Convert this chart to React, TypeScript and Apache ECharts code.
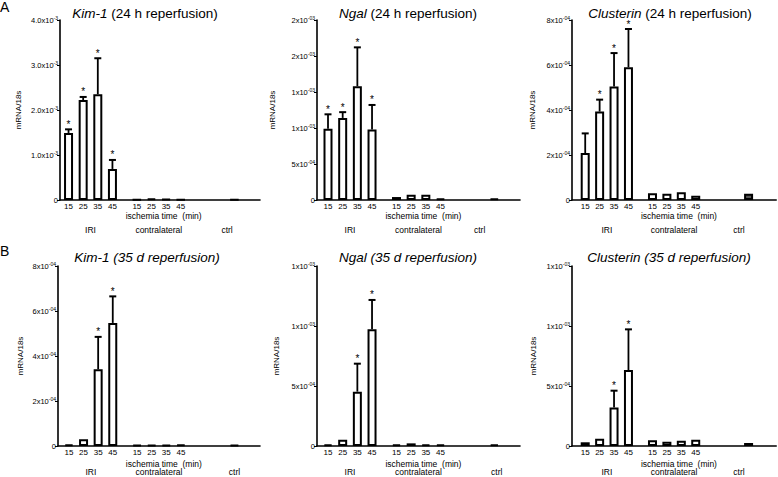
import React, { useEffect, useRef } from "react";
import * as echarts from "echarts";

const FONT = '"Liberation Sans", Arial, Helvetica, sans-serif';

// ---------- shared text ----------
const iriTimes = ["15", "25", "35", "45"];
const groupNames = ["IRI", "contralateral", "ctrl"];
const xAxisTitle = "ischemia time  (min)";
const yAxisTitle = "mRNA/18s";
const panelLetters = ["A", "B"];

// ---------- A: Kim-1 (24 h) ----------
const kim1_24h_iri = [1.49e-3, 2.22e-3, 2.35e-3, 0.69e-3];
const kim1_24h_iriSem = [0.08e-3, 0.07e-3, 0.8e-3, 0.2e-3];
const kim1_24h_contra = [0.01e-3, 0.03e-3, 0.02e-3, 0.01e-3];
const kim1_24h_ctrl = 0.01e-3;
const kim1_24h_sig = [1, 1, 1, 1];
const kim1_24h_ticks = ["0", "1.0x10^-3", "2.0x10^-3", "3.0x10^-3", "4.0x10^-3"];

// ---------- A: Ngal (24 h) ----------
const ngal_24h_iri = [0.99e-3, 1.14e-3, 1.58e-3, 0.98e-3];
const ngal_24h_iriSem = [0.2e-3, 0.08e-3, 0.54e-3, 0.34e-3];
const ngal_24h_contra = [0.041e-3, 0.074e-3, 0.074e-3, 0.018e-3];
const ngal_24h_ctrl = 0.018e-3;
const ngal_24h_sig = [1, 1, 1, 1];
const ngal_24h_ticks = ["0", "5x10^-04", "1x10^-03", "1x10^-03", "2x10^-03", "2x10^-03"];

// ---------- A: Clusterin (24 h) ----------
const clu_24h_iri = [2.09e-4, 3.93e-4, 5.04e-4, 5.9e-4];
const clu_24h_iriSem = [0.87e-4, 0.53e-4, 1.49e-4, 1.7e-4];
const clu_24h_contra = [0.3e-4, 0.28e-4, 0.34e-4, 0.19e-4];
const clu_24h_ctrl = 0.28e-4;
const clu_24h_sig = [0, 1, 1, 1];
const clu_24h_ticks = ["0", "2x10^-04", "4x10^-04", "6x10^-04", "8x10^-04"];

// ---------- B: Kim-1 (35 d) ----------
const kim1_35d_iri = [0.07e-4, 0.3e-4, 3.41e-4, 5.47e-4];
const kim1_35d_iriSem = [0, 0, 1.44e-4, 1.18e-4];
const kim1_35d_contra = [0.05e-4, 0.05e-4, 0.05e-4, 0.06e-4];
const kim1_35d_ctrl = 0.05e-4;
const kim1_35d_sig = [0, 0, 1, 1];
const kim1_35d_ticks = ["0", "2x10^-04", "4x10^-04", "6x10^-04", "8x10^-04"];

// ---------- B: Ngal (35 d) ----------
const ngal_35d_iri = [0.014e-3, 0.053e-3, 0.453e-3, 0.972e-3];
const ngal_35d_iriSem = [0, 0, 0.233e-3, 0.245e-3];
const ngal_35d_contra = [0.014e-3, 0.022e-3, 0.014e-3, 0.014e-3];
const ngal_35d_ctrl = 0.014e-3;
const ngal_35d_sig = [0, 0, 1, 1];
const ngal_35d_ticks = ["0", "5x10^-04", "1x10^-03", "1x10^-03"];

// ---------- B: Clusterin (35 d) ----------
const clu_35d_iri = [0.031e-3, 0.061e-3, 0.32e-3, 0.633e-3];
const clu_35d_iriSem = [0, 0, 0.141e-3, 0.339e-3];
const clu_35d_contra = [0.047e-3, 0.036e-3, 0.044e-3, 0.053e-3];
const clu_35d_ctrl = 0.025e-3;
const clu_35d_sig = [0, 0, 1, 1];
const clu_35d_ticks = ["0", "5x10^-04", "1x10^-03", "1x10^-03"];

type Panel = {
  gene: string;
  rest: string;
  allItalic: boolean;
  iri: number[];
  sem: number[];
  contra: number[];
  ctrl: number;
  sig: number[];
  ticks: string[];
  interval: number;
};

const panels: Panel[] = [
  { gene: "Kim-1", rest: " (24 h reperfusion)", allItalic: false, iri: kim1_24h_iri, sem: kim1_24h_iriSem, contra: kim1_24h_contra, ctrl: kim1_24h_ctrl, sig: kim1_24h_sig, ticks: kim1_24h_ticks, interval: 1e-3 },
  { gene: "Ngal", rest: " (24 h reperfusion)", allItalic: false, iri: ngal_24h_iri, sem: ngal_24h_iriSem, contra: ngal_24h_contra, ctrl: ngal_24h_ctrl, sig: ngal_24h_sig, ticks: ngal_24h_ticks, interval: 5e-4 },
  { gene: "Clusterin", rest: " (24 h reperfusion)", allItalic: false, iri: clu_24h_iri, sem: clu_24h_iriSem, contra: clu_24h_contra, ctrl: clu_24h_ctrl, sig: clu_24h_sig, ticks: clu_24h_ticks, interval: 2e-4 },
  { gene: "Kim-1", rest: " (35 d reperfusion)", allItalic: true, iri: kim1_35d_iri, sem: kim1_35d_iriSem, contra: kim1_35d_contra, ctrl: kim1_35d_ctrl, sig: kim1_35d_sig, ticks: kim1_35d_ticks, interval: 2e-4 },
  { gene: "Ngal", rest: " (35 d reperfusion)", allItalic: true, iri: ngal_35d_iri, sem: ngal_35d_iriSem, contra: ngal_35d_contra, ctrl: ngal_35d_ctrl, sig: ngal_35d_sig, ticks: ngal_35d_ticks, interval: 5e-4 },
  { gene: "Clusterin", rest: " (35 d reperfusion)", allItalic: true, iri: clu_35d_iri, sem: clu_35d_iriSem, contra: clu_35d_contra, ctrl: clu_35d_ctrl, sig: clu_35d_sig, ticks: clu_35d_ticks, interval: 5e-4 },
];

// ---------- layout ----------
const gridBoxes = [
  { left: 60, top: 20, width: 200, height: 180 },
  { left: 317, top: 20, width: 203, height: 180 },
  { left: 572, top: 20, width: 206, height: 180 },
  { left: 58, top: 266, width: 202, height: 180 },
  { left: 317, top: 266, width: 203, height: 180 },
  { left: 572, top: 266, width: 206, height: 180 },
];
const leads = [3, 4, 5, 4, 4, 5];
const catCounts = [82, 83, 85, 83, 83, 85];
const nameGaps = [38, 41, 36, 34, 37, 35];
const ctrlLabelOffsets = [65, 62, 64, 68, 69, 64];
const titleCenters = [
  [145, 13],
  [408, 13],
  [670, 13],
  [147, 257],
  [408, 257],
  [669, 257],
];
const rowLabelY = [
  { isch: 216, group: 229.5 },
  { isch: 463.5, group: 472 },
];
const POS_IRI = [0, 6, 12, 18];
const POS_CONTRA = [28, 34, 40, 46];
const POS_CTRL = 68;

function buildOption() {
  const grid: any[] = [];
  const xAxis: any[] = [];
  const yAxis: any[] = [];
  const series: any[] = [];

  panels.forEach((p, k) => {
    const lead = leads[k];
    const n = catCounts[k];
    const cats = Array.from({ length: n }, (_, i) => "c" + i);
    const labelMap: Record<string, string> = {};
    POS_IRI.forEach((o, i) => (labelMap["c" + (lead + o)] = iriTimes[i]));
    POS_CONTRA.forEach((o, i) => (labelMap["c" + (lead + o)] = iriTimes[i]));

    const barData: any[] = Array.from({ length: n }, () => "-");
    const errData: any[] = [];
    POS_IRI.forEach((o, i) => {
      barData[lead + o] = p.iri[i];
      errData.push([lead + o, p.iri[i], p.iri[i] + p.sem[i], p.sig[i]]);
    });
    POS_CONTRA.forEach((o, i) => {
      barData[lead + o] = p.contra[i];
    });
    barData[lead + POS_CTRL] = { value: p.ctrl, itemStyle: { color: "#555" } };

    const max = p.interval * (p.ticks.length - 1);
    grid.push({ ...gridBoxes[k], containLabel: false });
    xAxis.push({
      type: "category",
      gridIndex: k,
      data: cats,
      axisLine: { lineStyle: { color: "#000", width: 1.6 } },
      axisTick: { show: false },
      axisLabel: {
        interval: 0,
        margin: 2,
        fontSize: 8,
        fontFamily: FONT,
        color: "#000",
        formatter: (v: string) => labelMap[v] || "",
      },
      splitLine: { show: false },
    });
    const ticks = p.ticks;
    const interval = p.interval;
    yAxis.push({
      type: "value",
      gridIndex: k,
      min: 0,
      max,
      interval,
      name: yAxisTitle,
      nameLocation: "middle",
      nameGap: nameGaps[k],
      nameTextStyle: { fontSize: 8, fontFamily: FONT, color: "#000" },
      axisLine: { show: true, lineStyle: { color: "#000", width: 1.6 } },
      axisTick: { show: true, length: 3, lineStyle: { color: "#000", width: 1 } },
      splitLine: { show: false },
      axisLabel: {
        margin: 2,
        fontSize: 7.5,
        fontFamily: FONT,
        color: "#000",
        formatter: (v: number) => {
          const s = ticks[Math.round(v / interval)] ?? "";
          if (s.indexOf("^") < 0) return s;
          const [m, e] = s.split("^");
          return "{m|" + m + "}{e|" + e + "}";
        },
        rich: {
          m: { fontSize: 7.5, fontFamily: FONT, color: "#000", lineHeight: 10 },
          e: { fontSize: 5, fontFamily: FONT, color: "#000", lineHeight: 5, verticalAlign: "top" },
        },
      },
    });
    series.push({
      type: "bar",
      xAxisIndex: k,
      yAxisIndex: k,
      data: barData,
      barWidth: 9,
      itemStyle: { color: "#fff", borderColor: "#000", borderWidth: 2 },
      silent: true,
    });
    series.push({
      type: "custom",
      xAxisIndex: k,
      yAxisIndex: k,
      data: errData,
      encode: { x: 0, y: [1, 2] },
      z: 5,
      silent: true,
      renderItem: (_params: any, api: any) => {
        const x = api.value(0);
        const m = api.value(1);
        const t = api.value(2);
        const s = api.value(3);
        const base = api.coord([x, m]);
        const top = api.coord([x, t]);
        const children: any[] = [];
        if (t > m) {
          children.push({
            type: "line",
            shape: { x1: base[0], y1: base[1], x2: base[0], y2: top[1] },
            style: { stroke: "#000", lineWidth: 1.8 },
          });
          children.push({
            type: "line",
            shape: { x1: base[0] - 3.5, y1: top[1], x2: base[0] + 3.5, y2: top[1] },
            style: { stroke: "#000", lineWidth: 2 },
          });
        }
        if (s) {
          children.push({
            type: "text",
            x: base[0],
            y: top[1] - 5,
            style: {
              text: "*",
              fontSize: 10,
              fontFamily: FONT,
              fill: "#000",
              textAlign: "center",
              textVerticalAlign: "middle",
            },
          });
        }
        return { type: "group", children };
      },
    });
  });

  return {
    animation: false,
    backgroundColor: "#fff",
    grid,
    xAxis,
    yAxis,
    series,
  };
}

export default function App() {
  const ref = useRef<HTMLDivElement>(null);
  useEffect(() => {
    if (!ref.current) return;
    const chart = echarts.init(ref.current, null, { renderer: "svg" });
    chart.setOption(buildOption());

    const graphic: any[] = [];
    panelLetters.forEach((L, r) => {
      graphic.push({
        type: "text",
        left: 0,
        top: r === 0 ? 0 : 244,
        style: { text: L, fontSize: 14, fontFamily: FONT, fill: "#000" },
      });
    });
    panels.forEach((p, k) => {
      const lead = leads[k];
      const row = k < 3 ? 0 : 1;
      const px = (i: number) => chart.convertToPixel({ xAxisIndex: k } as any, i) as number;
      const [tx, ty] = titleCenters[k];
      graphic.push({
        type: "text",
        x: tx,
        y: ty,
        style: {
          text: "{g|" + p.gene + "}{r|" + p.rest + "}",
          textAlign: "center",
          textVerticalAlign: "middle",
          rich: {
            g: { fontSize: 13.5, fontFamily: FONT, fontStyle: "italic", fill: "#000" },
            r: { fontSize: 13.5, fontFamily: FONT, fontStyle: p.allItalic ? "italic" : "normal", fill: "#000" },
          },
        },
      });
      graphic.push({
        type: "text",
        x: px(lead + 39),
        y: rowLabelY[row].isch,
        style: { text: xAxisTitle, fontSize: 8.5, fontFamily: FONT, fill: "#000", textAlign: "center", textVerticalAlign: "middle" },
      });
      const groupIdx = [lead + 9, lead + 37, lead + ctrlLabelOffsets[k]];
      groupNames.forEach((gname, gi) => {
        graphic.push({
          type: "text",
          x: px(groupIdx[gi]),
          y: rowLabelY[row].group,
          style: { text: gname, fontSize: 8.5, fontFamily: FONT, fill: "#000", textAlign: "center", textVerticalAlign: "middle" },
        });
      });
    });
    chart.setOption({ graphic });
    return () => chart.dispose();
  }, []);
  return (
    <div
      ref={ref}
      style={{ position: "absolute", left: 0, top: 0, width: 778, height: 477, background: "#fff" }}
    />
  );
}
